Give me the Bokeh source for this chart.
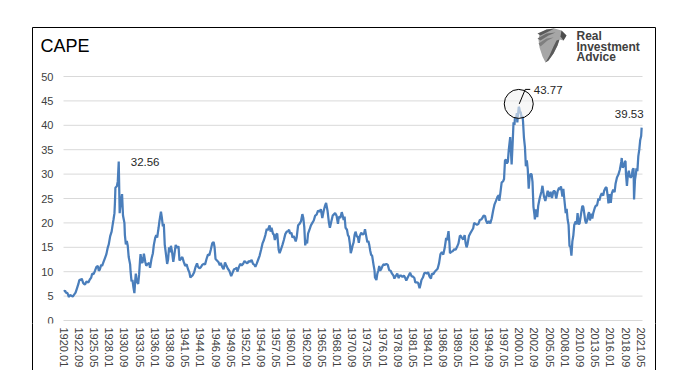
from bokeh.plotting import figure
from bokeh.models import Range1d, FixedTicker, Label
from bokeh.embed import file_html
from bokeh.resources import INLINE
from bokeh.core.properties import value

# ---------------- data ----------------
title_text = "CAPE"
logo_lines = ["Real", "Investment", "Advice"]

tick_labels = ["1920.01", "1922.09", "1925.05", "1928.01", "1930.09", "1933.05", "1936.01",
               "1938.09", "1941.05", "1944.01", "1946.09", "1949.05", "1952.01", "1954.09",
               "1957.05", "1960.01", "1962.09", "1965.05", "1968.01", "1970.09", "1973.05",
               "1976.01", "1978.09", "1981.05", "1984.01", "1986.09", "1989.05", "1992.01",
               "1994.09", "1997.05", "2000.01", "2002.09", "2005.05", "2008.01", "2010.09",
               "2013.05", "2016.01", "2018.09", "2021.05"]
y_ticks = [0, 5, 10, 15, 20, 25, 30, 35, 40, 45, 50]

months = [
 "1920.01","1920.04","1920.06","1920.09","1920.12","1921.02","1921.05","1921.08","1921.11",
 "1922.02","1922.05","1922.08","1922.10","1923.01","1923.03","1923.06","1923.08","1923.10",
 "1924.01","1924.05","1924.08","1924.11","1925.01","1925.04","1925.07","1925.10","1926.01",
 "1926.03","1926.05","1926.08","1926.10","1927.01","1927.04","1927.07","1927.10","1927.12",
 "1928.03","1928.06","1928.08","1928.10","1928.12","1929.01","1929.02","1929.05","1929.07",
 "1929.09","1929.11","1929.12","1930.02","1930.04","1930.06","1930.07","1930.09","1930.10",
 "1930.12","1931.02","1931.04","1931.06","1931.09","1931.10","1931.12","1932.02","1932.04",
 "1932.06","1932.08","1932.09","1932.11","1933.02","1933.04","1933.06","1933.07","1933.09",
 "1933.11","1934.01","1934.02","1934.05","1934.07","1934.09","1935.01","1935.03","1935.06",
 "1935.09","1935.11","1936.02","1936.04","1936.06","1936.09","1936.11","1937.02","1937.04",
 "1937.06","1937.08","1937.10","1937.12","1938.03","1938.05","1938.07","1938.09","1938.11",
 "1939.01","1939.04","1939.06","1939.09","1939.11","1940.01","1940.03","1940.05","1940.07",
 "1940.11","1941.02","1941.05","1941.08","1941.11","1942.02","1942.04","1942.06","1942.09",
 "1942.12","1943.03","1943.06","1943.08","1943.11","1944.02","1944.05","1944.08","1944.11",
 "1945.02","1945.05","1945.08","1945.11","1946.02","1946.05","1946.07","1946.09","1946.12",
 "1947.03","1947.06","1947.08","1947.11","1948.02","1948.05","1948.08","1948.11","1949.02",
 "1949.06","1949.09","1949.12","1950.03","1950.06","1950.07","1950.10","1951.01","1951.04",
 "1951.07","1951.10","1952.01","1952.04","1952.07","1952.10","1953.01","1953.04","1953.07",
 "1953.09","1953.12","1954.03","1954.06","1954.09","1954.12","1955.03","1955.06","1955.09",
 "1955.11","1956.03","1956.05","1956.07","1956.10","1956.12","1957.02","1957.05","1957.07",
 "1957.10","1957.12","1958.03","1958.06","1958.09","1958.12","1959.03","1959.06","1959.08",
 "1959.10","1960.01","1960.03","1960.06","1960.10","1960.12","1961.03","1961.06","1961.09",
 "1961.12","1962.02","1962.04","1962.06","1962.08","1962.10","1962.12","1963.03","1963.06",
 "1963.09","1963.12","1964.03","1964.06","1964.09","1964.12","1965.03","1965.06","1965.09",
 "1965.12","1966.02","1966.05","1966.08","1966.10","1967.01","1967.04","1967.07","1967.09",
 "1967.12","1968.03","1968.05","1968.08","1968.11","1969.01","1969.03","1969.05","1969.07",
 "1969.10","1969.12","1970.02","1970.04","1970.06","1970.08","1970.10","1970.12","1971.02",
 "1971.04","1971.07","1971.09","1971.11","1972.01","1972.04","1972.07","1972.10","1972.12",
 "1973.02","1973.05","1973.07","1973.09","1973.11","1974.01","1974.03","1974.06","1974.08",
 "1974.09","1974.12","1975.02","1975.04","1975.06","1975.08","1975.10","1976.01","1976.03",
 "1976.06","1976.09","1976.12","1977.03","1977.06","1977.09","1977.12","1978.02","1978.04",
 "1978.08","1978.11","1979.01","1979.04","1979.07","1979.10","1979.12","1980.03","1980.06",
 "1980.09","1980.11","1981.02","1981.05","1981.08","1981.10","1982.01","1982.04","1982.07",
 "1982.09","1982.11","1983.02","1983.05","1983.07","1983.10","1984.01","1984.04","1984.07",
 "1984.09","1984.12","1985.03","1985.06","1985.09","1985.12","1986.03","1986.06","1986.09",
 "1986.12","1987.03","1987.05","1987.08","1987.10","1987.11","1988.02","1988.05","1988.08",
 "1988.11","1989.02","1989.05","1989.08","1989.10","1989.12","1990.03","1990.06","1990.08",
 "1990.10","1990.12","1991.03","1991.06","1991.09","1991.12","1992.02","1992.05","1992.08",
 "1992.11","1993.02","1993.05","1993.08","1993.10","1994.01","1994.03","1994.06","1994.09",
 "1994.12","1995.03","1995.06","1995.09","1995.12","1996.03","1996.06","1996.07","1996.09",
 "1996.12","1997.03","1997.05","1997.07","1997.09","1997.11","1998.01","1998.03","1998.06",
 "1998.08","1998.09","1998.11","1999.01","1999.03","1999.04","1999.06","1999.08","1999.09",
 "1999.12","2000.01","2000.03","2000.04","2000.06","2000.08","2000.09","2000.11","2001.01",
 "2001.03","2001.05","2001.07","2001.09","2001.11","2002.01","2002.03","2002.05","2002.07",
 "2002.09","2002.10","2002.12","2003.03","2003.05","2003.08","2003.12","2004.02","2004.05",
 "2004.08","2004.11","2005.01","2005.04","2005.07","2005.10","2006.01","2006.04","2006.07",
 "2006.10","2007.01","2007.03","2007.05","2007.08","2007.10","2007.12","2008.03","2008.05",
 "2008.07","2008.09","2008.11","2009.01","2009.03","2009.05","2009.07","2009.09","2009.12",
 "2010.02","2010.04","2010.06","2010.08","2010.10","2010.12","2011.02","2011.04","2011.06",
 "2011.08","2011.10","2011.12","2012.02","2012.04","2012.06","2012.09","2012.11","2013.01",
 "2013.04","2013.06","2013.09","2013.12","2014.02","2014.04","2014.07","2014.10","2014.12",
 "2015.03","2015.05","2015.08","2015.09","2015.11","2016.02","2016.04","2016.07","2016.10",
 "2016.12","2017.03","2017.06","2017.09","2017.12","2018.01","2018.03","2018.05","2018.08",
 "2018.09","2018.10","2018.12","2019.02","2019.04","2019.06","2019.08","2019.10","2019.12",
 "2020.02","2020.03","2020.05","2020.07","2020.08","2020.10","2020.12","2021.02","2021.04",
 "2021.06","2021.07"]

cape = [
 6.0, 6.1, 5.7, 5.6, 4.8, 5.2, 5.1, 4.9, 5.3,
 5.7, 6.6, 7.5, 8.3, 8.3, 8.6, 7.7, 7.5, 7.4,
 8.0, 7.8, 8.4, 8.8, 9.6, 9.5, 10.2, 11.0, 11.2,
 10.2, 10.4, 11.4, 11.2, 12.0, 12.8, 13.6, 15.0, 15.6,
 17.3, 18.2, 19.5, 20.7, 22.0, 24.1, 27.2, 27.5, 28.5,
 32.56, 22.0, 23.1, 24.6, 25.9, 21.5, 21.0, 20.0, 17.5,
 15.6, 16.3, 15.3, 13.0, 11.5, 10.0, 8.0, 8.3, 6.8,
 5.6, 8.5, 9.6, 8.0, 7.5, 9.5, 12.5, 13.6, 12.0,
 11.8, 12.9, 13.7, 12.0, 11.2, 11.5, 11.8, 10.8, 12.6,
 13.8, 15.5, 17.0, 17.5, 17.0, 19.0, 20.5, 22.3, 21.0,
 19.3, 19.8, 15.5, 14.0, 11.6, 12.5, 15.0, 14.0, 15.3,
 14.3, 12.0, 13.3, 15.5, 15.0, 15.0, 15.2, 12.3, 12.5,
 13.0, 12.0, 11.2, 11.5, 10.5, 9.8, 8.8, 9.0, 9.3,
 9.9, 11.0, 11.7, 11.0, 10.7, 10.9, 11.4, 11.6, 11.5,
 12.6, 13.5, 13.4, 14.5, 15.8, 16.1, 15.0, 12.6, 12.3,
 12.0, 11.3, 11.8, 11.0, 10.5, 11.9, 11.2, 10.6, 10.2,
 9.1, 9.8, 10.5, 10.6, 10.8, 10.0, 10.9, 11.6, 11.3,
 11.6, 12.2, 11.9, 11.7, 12.2, 12.0, 12.4, 11.6, 11.4,
 11.0, 11.7, 12.5, 13.3, 14.5, 15.8, 16.5, 17.5, 18.8,
 18.5, 19.5, 18.2, 19.0, 17.8, 17.6, 16.5, 17.6, 17.8,
 14.5, 13.8, 14.6, 15.5, 16.5, 17.7, 18.2, 18.3, 18.6,
 17.8, 18.0, 17.0, 17.3, 16.2, 17.0, 19.5, 19.8, 20.3,
 21.8, 21.0, 19.2, 15.4, 16.5, 15.8, 17.8, 18.6, 19.5,
 20.0, 20.5, 21.5, 21.7, 22.5, 22.3, 22.8, 21.0, 22.5,
 23.6, 24.1, 22.5, 20.0, 19.0, 20.3, 21.5, 21.8, 22.0,
 21.5, 19.8, 21.3, 21.0, 22.2, 21.5, 20.6, 21.3, 19.0,
 18.6, 17.5, 17.2, 15.8, 13.8, 14.5, 15.4, 16.0, 17.5,
 18.2, 17.2, 17.1, 15.9, 17.3, 18.0, 17.6, 17.8, 18.7,
 17.6, 16.0, 16.3, 15.5, 14.3, 13.4, 13.3, 11.4, 10.3,
 8.8, 8.3, 9.6, 10.2, 11.2, 10.2, 10.5, 11.2, 11.5,
 11.4, 11.6, 11.4, 10.3, 10.2, 9.6, 9.2, 8.6, 9.0,
 9.6, 8.7, 9.2, 9.2, 8.9, 9.2, 8.9, 8.2, 8.8,
 9.4, 9.8, 9.1, 9.0, 8.7, 7.8, 7.8, 7.7, 6.6,
 7.4, 8.3, 8.8, 9.7, 9.8, 9.6, 9.9, 9.0, 8.6,
 9.6, 9.5, 10.0, 10.3, 10.6, 11.7, 13.6, 14.0, 13.5,
 14.9, 16.9, 16.5, 18.3, 15.8, 13.8, 14.1, 14.2, 14.6,
 14.5, 15.1, 15.8, 17.4, 17.3, 17.0, 16.6, 17.5, 15.9,
 15.0, 15.6, 17.3, 17.9, 18.4, 18.9, 20.0, 19.8, 19.6,
 19.8, 20.6, 20.7, 21.1, 21.5, 21.4, 20.5, 19.9, 20.4,
 19.9, 20.9, 22.5, 23.8, 24.5, 25.3, 25.7, 24.5, 25.9,
 28.3, 28.5, 29.0, 32.8, 33.0, 32.2, 32.5, 35.0, 37.6,
 33.8, 32.0, 36.0, 40.6, 40.1, 41.5, 41.2, 42.5, 40.6,
 43.77, 43.6, 42.5, 42.8, 41.5, 41.9, 40.8, 37.4, 35.6,
 31.6, 32.8, 31.0, 27.0, 29.6, 30.0, 30.0, 28.4, 23.3,
 21.8, 20.7, 22.8, 21.2, 23.5, 25.0, 26.5, 27.6, 25.5,
 24.5, 25.7, 26.6, 25.3, 26.4, 25.1, 26.5, 26.5, 25.0,
 26.5, 27.2, 26.8, 27.5, 25.4, 27.0, 24.9, 22.0, 22.9,
 20.7, 19.6, 15.2, 15.2, 13.3, 16.2, 17.4, 19.6, 20.3,
 19.7, 22.0, 19.8, 19.8, 21.0, 22.3, 23.5, 23.3, 22.0,
 20.5, 19.9, 20.5, 21.6, 22.2, 20.5, 21.9, 20.9, 22.0,
 23.0, 23.5, 23.6, 25.0, 24.6, 25.4, 26.1, 25.6, 26.6,
 27.2, 27.3, 25.1, 24.0, 25.9, 24.1, 26.0, 26.8, 26.3,
 28.0, 29.3, 29.9, 30.9, 32.5, 33.3, 31.3, 31.6, 32.6,
 32.6, 30.0, 27.6, 29.9, 30.7, 29.5, 29.3, 29.6, 30.9,
 31.2, 24.8, 28.9, 30.1, 31.2, 30.6, 33.7, 35.0, 37.0,
 37.8, 39.53]

callout_months = ["1929.09", "1999.12", "2021.07"]

# ---------------- geometry (page pixels) ----------------
W, H = 673, 370
PL, PR, PT, PB = 63.0, 642.0, 76.0, 320.0      # plot area on the page
DX0, DX1 = -0.4, 1219.8                        # month-index span of the plot area
DY0, DY1 = 0.0, 50.0
KX = (PR - PL) / (DX1 - DX0)
KY = (PB - PT) / (DY1 - DY0)
FL, FR, FT, FB = 28, W, 0, 323                 # bokeh frame on the page
BORDER_L, BORDER_R, BORDER_T = 32, 655, 27
LABEL_TOP = 327                                # page y where x tick labels start
BORDER_TICK = H - FB + 5                       # long minor ticks reach the bottom


def dx(X):
    return DX0 + (X - PL) / KX


def dy(Y):
    return DY0 + (PB - Y) / KY


def idx(s):
    return (int(s[:4]) - 1920) * 12 + int(s[5:7]) - 1


xs = [idx(m) for m in months]

p = figure(width=W, height=H, output_backend="svg", toolbar_location=None, title=None,
           x_range=Range1d(dx(FL), dx(FR)), y_range=Range1d(dy(FB), dy(FT)),
           min_border_left=FL, min_border_right=W - FR,
           min_border_top=FT, min_border_bottom=H - FB)
p.outline_line_color = None
p.background_fill_color = "white"
p.border_fill_color = "white"
p.xgrid.visible = False
p.ygrid.visible = False

# x axis (labels; the lower part of the chart border is drawn as long minor ticks)
tick_pos = [idx(t) for t in tick_labels]
p.xaxis.ticker = FixedTicker(ticks=tick_pos, minor_ticks=[dx(BORDER_L), dx(BORDER_R)])
p.xaxis.major_label_overrides = {t: s for t, s in zip(tick_pos, tick_labels)}
p.xaxis.major_label_orientation = "vertical"
p.xaxis.axis_line_color = None
p.xaxis.major_tick_line_color = None
p.xaxis.major_tick_out = 0
p.xaxis.major_tick_in = 0
p.xaxis.minor_tick_line_color = "black"
p.xaxis.minor_tick_line_width = 1
p.xaxis.minor_tick_out = BORDER_TICK
p.xaxis.minor_tick_in = 0
p.xaxis.major_label_standoff = (LABEL_TOP - FB) - BORDER_TICK
p.xaxis.major_label_text_font = "Liberation Sans"
p.xaxis.major_label_text_font_size = "11px"
p.xaxis.major_label_text_color = "#404040"

# y axis pinned to the left edge of the plot area
p.yaxis.fixed_location = DX0
p.yaxis.ticker = FixedTicker(ticks=y_ticks)
p.yaxis.axis_line_color = None
p.yaxis.major_tick_line_color = None
p.yaxis.minor_tick_line_color = None
p.yaxis.major_tick_out = 0
p.yaxis.major_tick_in = 0
p.yaxis.minor_tick_out = 0
p.yaxis.major_label_standoff = 10
p.yaxis.major_label_text_font = "Liberation Sans"
p.yaxis.major_label_text_font_size = "11px"
p.yaxis.major_label_text_color = "#404040"

# horizontal gridlines across the plot area
p.segment(x0=[DX0] * len(y_ticks), x1=[DX1] * len(y_ticks), y0=y_ticks, y1=y_ticks,
          line_color="#d9d9d9", line_width=1)

# chart border (upper part)
p.line([dx(BORDER_L), dx(BORDER_L), dx(BORDER_R), dx(BORDER_R)],
       [dy(400), dy(BORDER_T), dy(BORDER_T), dy(400)],
       line_color="black", line_width=1)

# series
p.line(xs, cape, line_color="#4a7ebb", line_width=2.25)

# peak circle highlight
ipk = max(range(len(cape)), key=lambda i: cape[i])
xpk, ypk = xs[ipk], cape[ipk]
cy = ypk + 3 / KY
p.circle(x=[xpk], y=[cy], radius=14.5, radius_units="screen",
         fill_color="#f2f2f2", fill_alpha=0.6, line_color="black", line_width=1)
lead_dx = [0.5, 6.5, 11.5]
lead_dy = [0, 14.5, 14.5]
p.line([xpk + d / KX for d in lead_dx], [cy + d / KY for d in lead_dy],
       line_color="black", line_width=1)

# callout labels
offs = {"1929.09": (12, 0, "left"), "1999.12": (15, 16.5, "left"), "2021.07": (2, 14, "right")}
for m in callout_months:
    i = months.index(m)
    ox, oy, al = offs[m]
    p.add_layout(Label(x=xs[i], y=cape[i], text=f"{cape[i]:.2f}", x_offset=ox, y_offset=oy,
                       text_align=al, text_baseline="middle", text_font="Liberation Sans",
                       text_font_size="11.5px", text_color="#262626"))

# title
p.text(x=[dx(40)], y=[dy(45)], text=[title_text], text_font=value("Liberation Sans"),
       text_font_size="18px", text_color="black", text_baseline="middle", text_align="left")

# logo icon (stylised eagle head)
head = [(539, 33), (546, 29), (554, 28), (561, 30), (566, 35), (563, 40), (559, 39),
        (557, 45), (553, 53), (548, 60), (545, 62), (542, 56), (539, 47), (538, 39)]
streak1 = [(537, 33), (546, 29), (554, 28), (548, 31), (540, 35)]
streak2 = [(537, 38), (546, 33), (555, 32), (548, 35), (540, 40)]
streak3 = [(538, 43), (546, 38), (553, 37), (547, 40), (540, 46)]
cheek = [(559, 39), (557, 45), (553, 53), (548, 60), (545, 62), (549, 55), (553, 46), (556, 40)]
beak = [(561, 30), (566, 35), (563, 40), (560, 36)]
shapes = [(head, "#a6a6a6"), (streak1, "#5a5a5a"), (streak2, "#6e6e6e"),
          (streak3, "#7f7f7f"), (cheek, "#5a5a5a"), (beak, "#4d4d4d")]
for shape, col in shapes:
    p.patch([dx(a) for a, b in shape], [dy(b) for a, b in shape],
            fill_color=col, line_color=None)

# logo text
p.text(x=[dx(576)] * 3, y=[dy(35.5), dy(46), dy(56.5)], text=logo_lines,
       text_font=value("Liberation Sans"), text_font_style="bold", text_font_size="12px",
       text_color="#404040", text_baseline="middle", text_align="left")

open("out.html", "w").write(file_html(p, INLINE))
